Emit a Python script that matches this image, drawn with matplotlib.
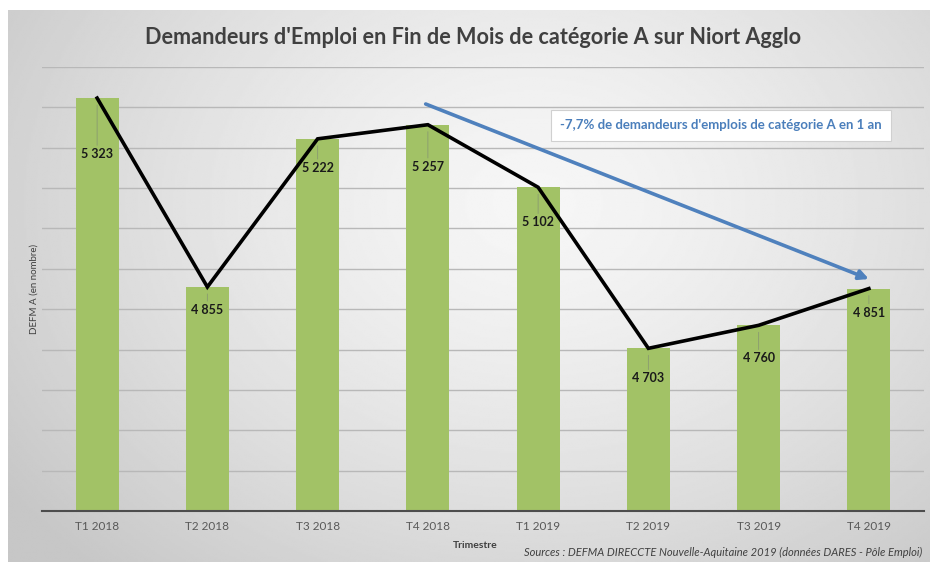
import numpy as np
import matplotlib
matplotlib.use("Agg")
import matplotlib.pyplot as plt

plt.rcParams['font.family'] = ['Lato', 'DejaVu Sans']

categories = ["T1 2018", "T2 2018", "T3 2018", "T4 2018",
              "T1 2019", "T2 2019", "T3 2019", "T4 2019"]
values = [5323, 4855, 5222, 5257, 5102, 4703, 4760, 4851]
value_labels = ["5 323", "4 855", "5 222", "5 257", "5 102", "4 703", "4 760", "4 851"]
# label offsets below bar top (pixels) - layout only
label_offsets = [56, 23, 29, 42, 35, 30, 33, 24]

title = "Demandeurs d'Emploi en Fin de Mois de catégorie A sur Niort Agglo"
annotation = "-7,7% de demandeurs d'emplois de catégorie A en 1 an"
source = "Sources : DEFMA DIRECCTE Nouvelle-Aquitaine 2019 (données DARES - Pôle Emploi)"

W, H = 930, 562
fig = plt.figure(figsize=(W / 100, H / 100), dpi=100)
fig.patch.set_facecolor('white')

# radial gradient background
bg = fig.add_axes([8 / W, 0, 1 - 8 / W, 1 - 10 / H])
bg.set_axis_off()
yy, xx = np.mgrid[0:1:300j, 0:1:500j]
r = np.sqrt(((xx - 0.57) / 0.70) ** 2 + ((yy - 0.35) / 0.9) ** 2)
r = np.clip(r, 0, 1)
light, dark = 0.965, 0.78
img = light - (light - dark) * r ** 1.4
bg.imshow(img, cmap='gray', vmin=0, vmax=1, aspect='auto', extent=[0, 1, 1, 0],
          interpolation='bilinear')
bg.set_xlim(0, 1)
bg.set_ylim(1, 0)

ax = fig.add_axes([42 / W, 51 / H, (924 - 42) / W, (511 - 67) / H])
ax.set_facecolor('none')
x = np.arange(len(categories))
ax.bar(x, values, width=0.39, color='#a2c266', zorder=2)
ax.plot(x, values, color='black', lw=2.6, zorder=4, solid_joinstyle='miter')

ax.set_ylim(4300, 5400)
ax.set_xlim(-0.5, len(categories) - 0.5)
ax.set_yticks(np.arange(4300, 5401, 100))
ax.set_yticklabels([])
ax.tick_params(axis='y', length=0)
ax.tick_params(axis='x', length=0, pad=7, labelsize=8.5, labelcolor='#595959')
ax.set_xticks(x)
ax.set_xticklabels(categories)
ax.grid(axis='y', color='#b8b8b8', lw=1, zorder=0)
for s in ['top', 'right', 'left']:
    ax.spines[s].set_visible(False)
ax.spines['bottom'].set_color('#4d4d4d')
ax.spines['bottom'].set_linewidth(1.5)
ax.spines['bottom'].set_zorder(5)

for xi, v, lab, off in zip(x, values, value_labels, label_offsets):
    ax.annotate(lab, xy=(xi, v), xytext=(0, -off * 0.72), textcoords='offset points',
                ha='center', va='center', fontsize=9, fontweight='bold', color='#1a1a1a',
                zorder=6,
                arrowprops=dict(arrowstyle='-', color='#8a9a70', lw=0.6,
                                shrinkA=0, shrinkB=5))

# blue trend arrow
ax.annotate('', xy=(7, 5400 - (279 - 67) / 40.36 * 100),
            xytext=(3 - 0.02, 5400 - (104 - 67) / 40.36 * 100),
            arrowprops=dict(arrowstyle='-|>', color='#4f81bd', lw=2.6,
                            mutation_scale=14, shrinkA=0, shrinkB=0), zorder=5)

fig.text(721 / W, 1 - 125 / H, annotation, ha='center', va='center', fontsize=9.5,
         fontweight='bold', color='#4a7ebb',
         bbox=dict(boxstyle='square,pad=0.72', fc='white', ec='#d0d0d0', lw=0.8))

fig.text(473 / W, 1 - 37 / H, title, ha='center', va='center', fontsize=15.6,
         fontweight='bold', color='#404040')
fig.text(34 / W, 1 - 289 / H, "DEFM A (en nombre)", rotation=90, ha='center', va='center',
         fontsize=7, color='#404040')
fig.text(475 / W, 1 - 545 / H, "Trimestre", ha='center', va='center', fontsize=7.5,
         fontweight='bold', color='#404040')
fig.text(922 / W, 1 - 552 / H, source, ha='right', va='center', fontsize=8,
         style='italic', color='#404040')

fig.savefig('out.png', dpi=100)
